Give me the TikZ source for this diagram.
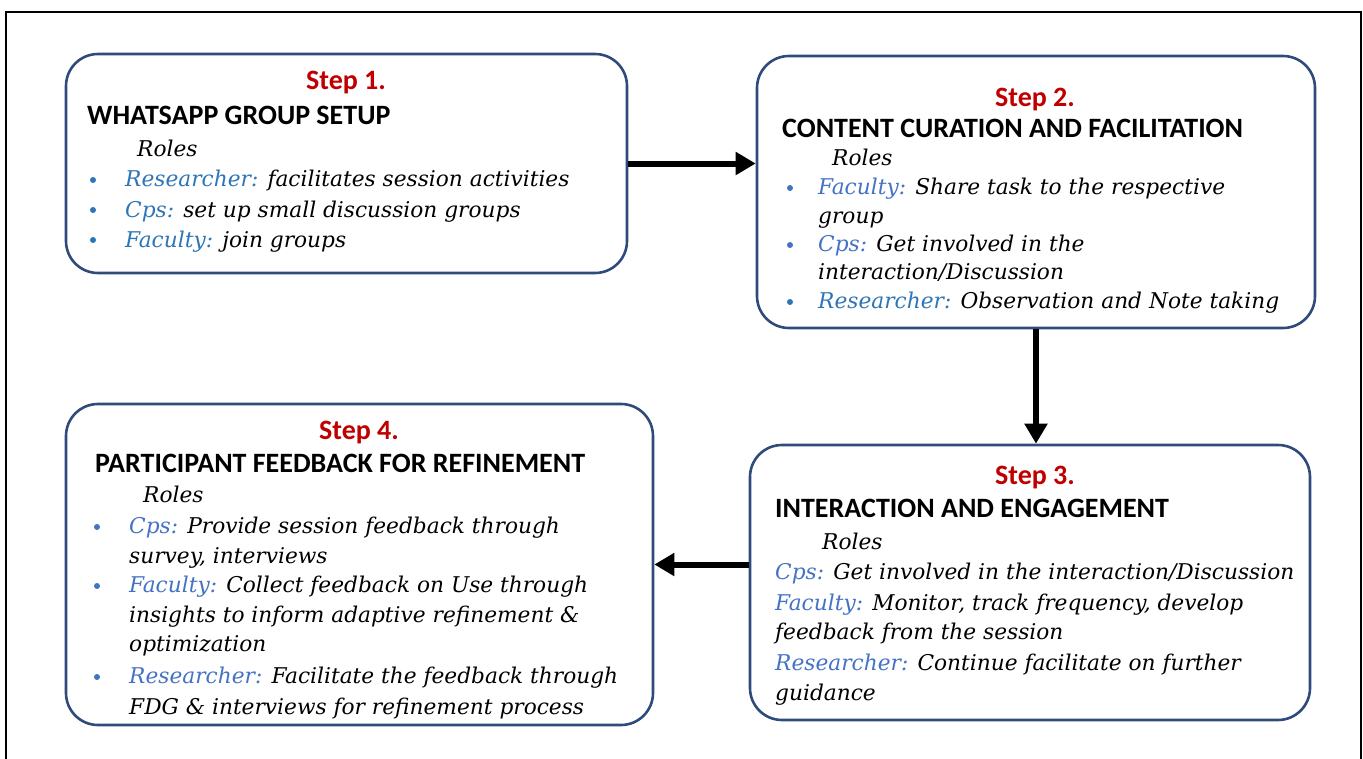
\documentclass[tikz,border=0pt]{standalone}
\usepackage{fontspec}
\setmainfont{Carlito}
\newfontfamily\rolefont{DejaVu Serif}
\usetikzlibrary{arrows.meta,positioning}
\definecolor{stepred}{HTML}{C00000}
\definecolor{boxnavy}{HTML}{2F4B7C}
\definecolor{rolesky}{HTML}{2E75B6}
\definecolor{rolemid}{HTML}{4472C4}
\newcommand{\who}[2]{{\color{#1}#2}}

\begin{document}
\begin{tikzpicture}[x=1pt,y=-1pt,
  stepbox/.style={draw=boxnavy,line width=2.6pt,rounded corners=32pt,inner sep=0pt},
  steptitle/.style={font=\bfseries\fontsize{28}{30}\selectfont,text=stepred,anchor=base,inner sep=0pt},
  heading/.style={font=\bfseries\fontsize{28}{30}\selectfont,anchor=base west,inner sep=0pt},
  roleline/.style={font=\rolefont\itshape\fontsize{21.7}{24}\selectfont,anchor=base west,inner sep=0pt},
  dot/.style={circle,fill=#1,inner sep=0pt,minimum size=6pt},
  flow/.style={-{Triangle[length=20pt,width=22pt]},line width=6pt}]
  \useasboundingbox (0,0) rectangle (1363,758);
  \draw[line width=2.2pt] (6,12) rectangle (1361,780);

  % boxes
  \node[stepbox,minimum width=561pt,minimum height=219pt] (b1) at (346.5,163.5) {};
  \node[stepbox,minimum width=558pt,minimum height=272pt] (b2) at (1036,192) {};
  \node[stepbox,minimum width=560pt,minimum height=275pt] (b3) at (1030,582.5) {};
  \node[stepbox,minimum width=587pt,minimum height=321pt] (b4) at (359.5,564.5) {};

  % step 1
  \node[steptitle] (s1) at (346,89) {Step 1.};
  \node[heading] (h1) at (87,124) {WHATSAPP GROUP SETUP};
  \node[roleline] (o1) at (137,156) {Roles};
  \node[dot=rolesky] (d1a) at (93,180) {};
  \node[dot=rolesky] (d1b) at (93,210) {};
  \node[dot=rolesky] (d1c) at (93,240) {};
  \node[roleline] (r1a) at (125,186) {\who{rolesky}{Researcher:} facilitates session activities};
  \node[roleline] (r1b) at (125,217) {\who{rolesky}{Cps:} set up small discussion groups};
  \node[roleline] (r1c) at (125,247) {\who{rolesky}{Faculty:} join groups};

  % step 2
  \node[steptitle] (s2) at (1035,106) {Step 2.};
  \node[heading] (h2) at (782,137) {CONTENT CURATION AND FACILITATION};
  \node[roleline] (o2) at (832,165) {Roles};
  \node[dot=rolemid] (d2a) at (790,188) {};
  \node[dot=rolemid] (d2b) at (790,245) {};
  \node[dot=rolesky] (d2c) at (790,302) {};
  \node[roleline] (r2a) at (818,194) {\who{rolemid}{Faculty:} Share task to the respective};
  \node[roleline] (r2b) at (818,223) {group};
  \node[roleline] (r2c) at (818,251) {\who{rolemid}{Cps:} Get involved in the};
  \node[roleline] (r2d) at (818,279) {interaction/Discussion};
  \node[roleline] (r2e) at (818,308) {\who{rolesky}{Researcher:} Observation and Note taking};

  % step 3
  \node[steptitle] (s3) at (1035,484) {Step 3.};
  \node[heading] (h3) at (775,517) {INTERACTION AND ENGAGEMENT};
  \node[roleline] (o3) at (822,549) {Roles};
  \node[roleline] (r3a) at (775,579) {\who{rolemid}{Cps:} Get involved in the interaction/Discussion};
  \node[roleline] (r3b) at (775,610) {\who{rolemid}{Faculty:} Monitor, track frequency, develop};
  \node[roleline] (r3c) at (775,639) {feedback from the session};
  \node[roleline] (r3d) at (775,670) {\who{rolemid}{Researcher:} Continue facilitate on further};
  \node[roleline] (r3e) at (775,700) {guidance};

  % step 4
  \node[steptitle] (s4) at (359,439) {Step 4.};
  \node[heading] (h4) at (95,472) {PARTICIPANT FEEDBACK FOR REFINEMENT};
  \node[roleline] (o4) at (143,502) {Roles};
  \node[dot=rolemid] (d4a) at (97,527) {};
  \node[dot=rolemid] (d4b) at (97,586) {};
  \node[dot=rolemid] (d4c) at (97,677) {};
  \node[roleline] (r4a) at (129,533) {\who{rolemid}{Cps:} Provide session feedback through};
  \node[roleline] (r4b) at (129,563) {survey, interviews};
  \node[roleline] (r4c) at (129,592) {\who{rolemid}{Faculty:} Collect feedback on Use through};
  \node[roleline] (r4d) at (129,622) {insights to inform adaptive refinement \&};
  \node[roleline] (r4e) at (129,651) {optimization};
  \node[roleline] (r4f) at (129,683) {\who{rolemid}{Researcher:} Facilitate the feedback through};
  \node[roleline] (r4g) at (129,714) {FDG \& interviews for refinement process};

  % arrows
  \draw[flow] (b1.east) -- (b1.east -| b2.west);
  \draw[flow] (b2.south) -- (b2.south |- b3.north);
  \draw[flow] (b3.west |- b4.east) -- (b4.east);
\end{tikzpicture}
\end{document}
